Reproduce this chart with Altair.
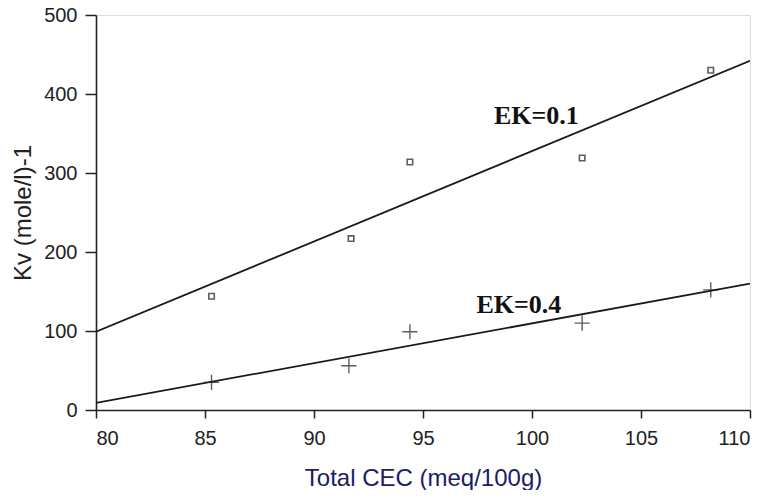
import altair as alt
import pandas as pd

# EK = 0.1 observations (squares)
cec_01 = [85.3, 91.7, 94.4, 102.3, 108.2]
kv_01 = [144, 217, 314, 319, 430]
# EK = 0.4 observations (crosses)
cec_04 = [85.3, 91.6, 94.4, 102.3, 108.2]
kv_04 = [35, 56, 99, 110, 152]
# fitted lines (end points)
fit_x = [80, 110]
fit_01 = [99, 442]
fit_04 = [9, 160]
# labels
lab_text = ["EK=0.1", "EK=0.4"]
lab_x = [100.2, 99.4]
lab_y = [372, 133]

pts01 = pd.DataFrame({"x": cec_01, "y": kv_01})
pts04 = pd.DataFrame({"x": cec_04, "y": kv_04})
lines = pd.DataFrame({
    "x": fit_x + fit_x,
    "y": fit_01 + fit_04,
    "s": ["0.1", "0.1", "0.4", "0.4"],
})
labs = pd.DataFrame({"t": lab_text, "x": lab_x, "y": lab_y})

xs = alt.Scale(domain=[80, 110], nice=False, zero=False)
ys = alt.Scale(domain=[0, 500], nice=False)

xax = alt.Axis(values=[80, 85, 90, 95, 100, 105, 110], title="Total CEC (meq/100g)",
               grid=False, tickSize=8, labelPadding=10, labelFontSize=20,
               labelFont="Liberation Sans", labelColor="#222", titleFont="Liberation Sans",
               titleFontSize=24, titleFontWeight="normal", titleColor="#1c1c66",
               titlePadding=18, domainColor="#222", tickColor="#222",
               domainWidth=1.6, tickWidth=1.5)
yax = alt.Axis(values=[0, 100, 200, 300, 400, 500], title="Kv (mole/l)-1",
               grid=False, tickSize=11, labelPadding=8, labelFontSize=20,
               labelFont="Liberation Sans", labelColor="#222", titleFont="Liberation Sans",
               titleFontSize=24, titleFontWeight="normal", titleColor="#222",
               titlePadding=8, domainColor="#222", tickColor="#222",
               domainWidth=1.6, tickWidth=1.5)

base_x = alt.X("x:Q", scale=xs, axis=xax)
base_y = alt.Y("y:Q", scale=ys, axis=yax)

line_layer = alt.Chart(lines).mark_line(color="#1a1a1a", strokeWidth=1.8, clip=True).encode(
    x=base_x, y=base_y, detail="s:N")

sq_layer = alt.Chart(pts01).mark_point(shape="square", size=30, filled=False,
                                       color="#1a1a1a", strokeWidth=1.6).encode(x="x:Q", y="y:Q")

cross_layer = alt.Chart(pts04).mark_point(shape="M-1,0H1M0,-1V1", size=230, filled=False,
                                          color="#1a1a1a", strokeWidth=1.4).encode(x="x:Q", y="y:Q")

text_layer = alt.Chart(labs).mark_text(font="Liberation Serif", fontWeight="bold",
                                       fontSize=26, color="#111").encode(
    x="x:Q", y="y:Q", text="t:N")

chart = alt.layer(line_layer, sq_layer, cross_layer, text_layer).properties(
    width=654, height=395,
    autosize=alt.AutoSizeParams(type="none"),
    padding={"left": 88, "top": 7, "right": 20, "bottom": 80},
).configure_view(stroke="#1a1a1a", strokeWidth=1.6).configure(background="white")

chart.save("out.html", embed_options={"renderer": "svg", "actions": False})
